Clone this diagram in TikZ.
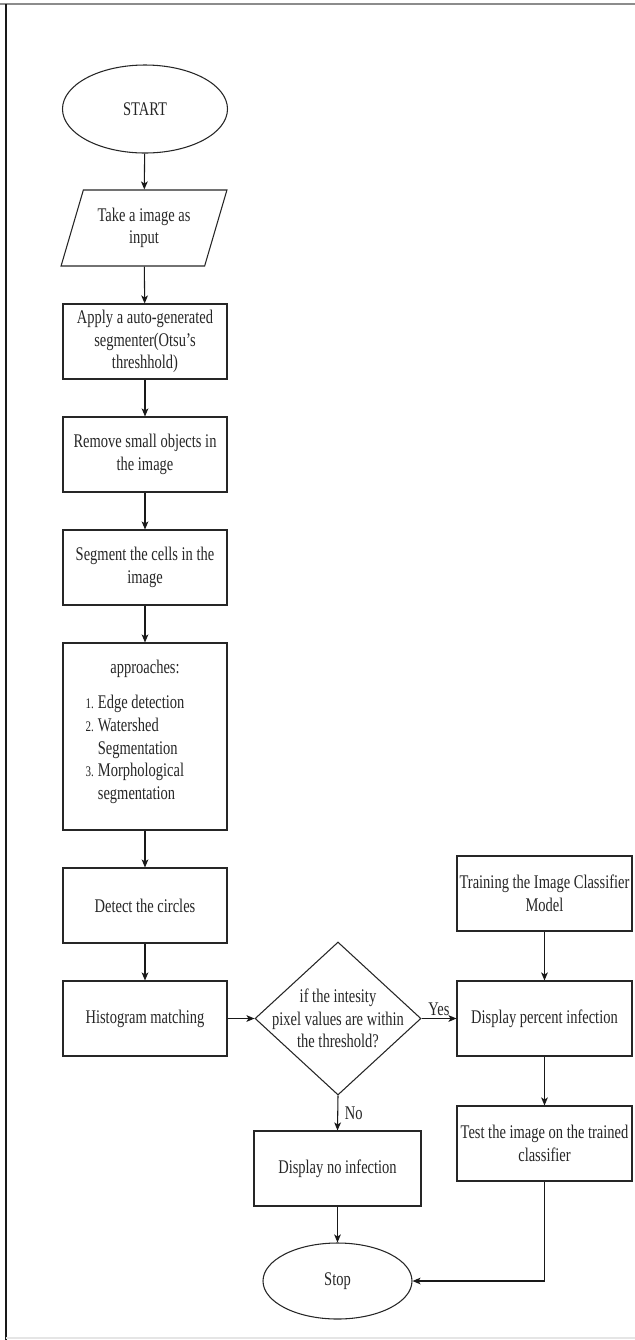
\documentclass[tikz,border=0pt]{standalone}
\usepackage{fontspec}
\setmainfont{Liberation Serif}[FakeStretch=0.75]
\usetikzlibrary{shapes.geometric,arrows.meta}
\begin{document}
\begin{tikzpicture}[x=0.75pt,y=-0.75pt,
  font=\fontsize{14.5}{17}\selectfont,
  every node/.style={text=black!85},
  box/.style={draw=black!85, line width=0.8pt, rectangle, minimum width=123pt, minimum height=56.25pt, align=center, inner sep=1pt},
  wbox/.style={box, minimum width=131.25pt},
  term/.style={draw=black!85, line width=0.8pt, ellipse, inner sep=0pt},
  io/.style={draw=black!85, line width=0.8pt, trapezium, trapezium left angle=67, trapezium right angle=113, trapezium stretches=true, minimum width=124.5pt, minimum height=57pt, align=center, inner sep=0pt},
  conn/.style={draw=black!90, line width=0.8pt, -{Stealth[length=6pt,width=5pt,inset=1.5pt]}},
  lbl/.style={font=\fontsize{14.5}{15}\selectfont, inner sep=1pt},
  num/.style={}
]
\useasboundingbox (0,0) rectangle (635,1340);
% frame
\draw[black!45, line width=0.9pt] (0,4) -- (635,4);
\draw[black!90, line width=1pt] (6,4) -- (6,1340);
\draw[black!10, line width=0.8pt] (6,1338) -- (635,1338);

\node[term, minimum width=123.75pt, minimum height=66pt] (start) at (145,109) {START};
\node[io] (input) at (144,228) {Take a image as\\input};
\node[box] (apply) at (145,341.5) {Apply a auto-generated\\segmenter(Otsu's\\threshhold)};
\node[box] (remove) at (145,454.5) {Remove small objects in\\the image};
\node[box] (segment) at (145,567.5) {Segment the cells in the\\image};
\node[box, minimum height=140.25pt, inner sep=0pt] (appr) at (145,736.5) {%
  \begin{minipage}{123pt}\centering approaches:\par\vspace{10.5pt}\raggedright
  \hspace*{17pt}\begin{tabular}{@{}r@{\hspace{3pt}}l@{}}
  {\fontsize{11}{12}\selectfont 1.} & Edge detection\\
  {\fontsize{11}{12}\selectfont 2.} & Watershed\\
   & Segmentation\\
  {\fontsize{11}{12}\selectfont 3.} & Morphological\\
   & segmentation
  \end{tabular}\par\vspace{5pt}
  \end{minipage}};
\node[box] (detect) at (145,905.5) {Detect the circles};
\node[box] (hist) at (145,1018.5) {Histogram matching};
\node[draw=black!85, line width=0.8pt, diamond, minimum width=124.5pt, minimum height=114.75pt, inner sep=0pt, align=center] (dec) at (338,1018.5) {};
\node[align=center] at (dec.center) {if the intesity\\pixel values are within\\the threshold?};
\node[wbox] (train) at (544.5,893.5) {Training the Image Classifier\\Model};
\node[wbox] (display) at (544.5,1018.5) {Display percent infection};
\node[wbox] (test) at (544.5,1143.5) {Test the image on the trained\\classifier};
\node[box, minimum width=125.25pt] (noinf) at (337.5,1168.5) {Display no infection};
\node[term, minimum width=111.75pt, minimum height=57pt] (stop) at (337.5,1281) {Stop};

\draw[conn] (start) -- (input);
\draw[conn] (input) -- (apply);
\draw[conn] (apply) -- (remove);
\draw[conn] (remove) -- (segment);
\draw[conn] (segment) -- (appr);
\draw[conn] (appr) -- (detect);
\draw[conn] (detect) -- (hist);
\draw[conn] (hist) -- (dec.west);
\draw[conn] (dec.east) -- node[lbl, above=1pt] {Yes} (display.west);
\draw[conn] (dec.south) -- node[lbl, right=4pt] {No} (noinf.north);
\draw[conn] (train) -- (display);
\draw[conn] (display) -- (test);
\draw[conn] (noinf) -- (stop);
\draw[conn] (test.south) |- (stop.east);
\end{tikzpicture}
\end{document}
